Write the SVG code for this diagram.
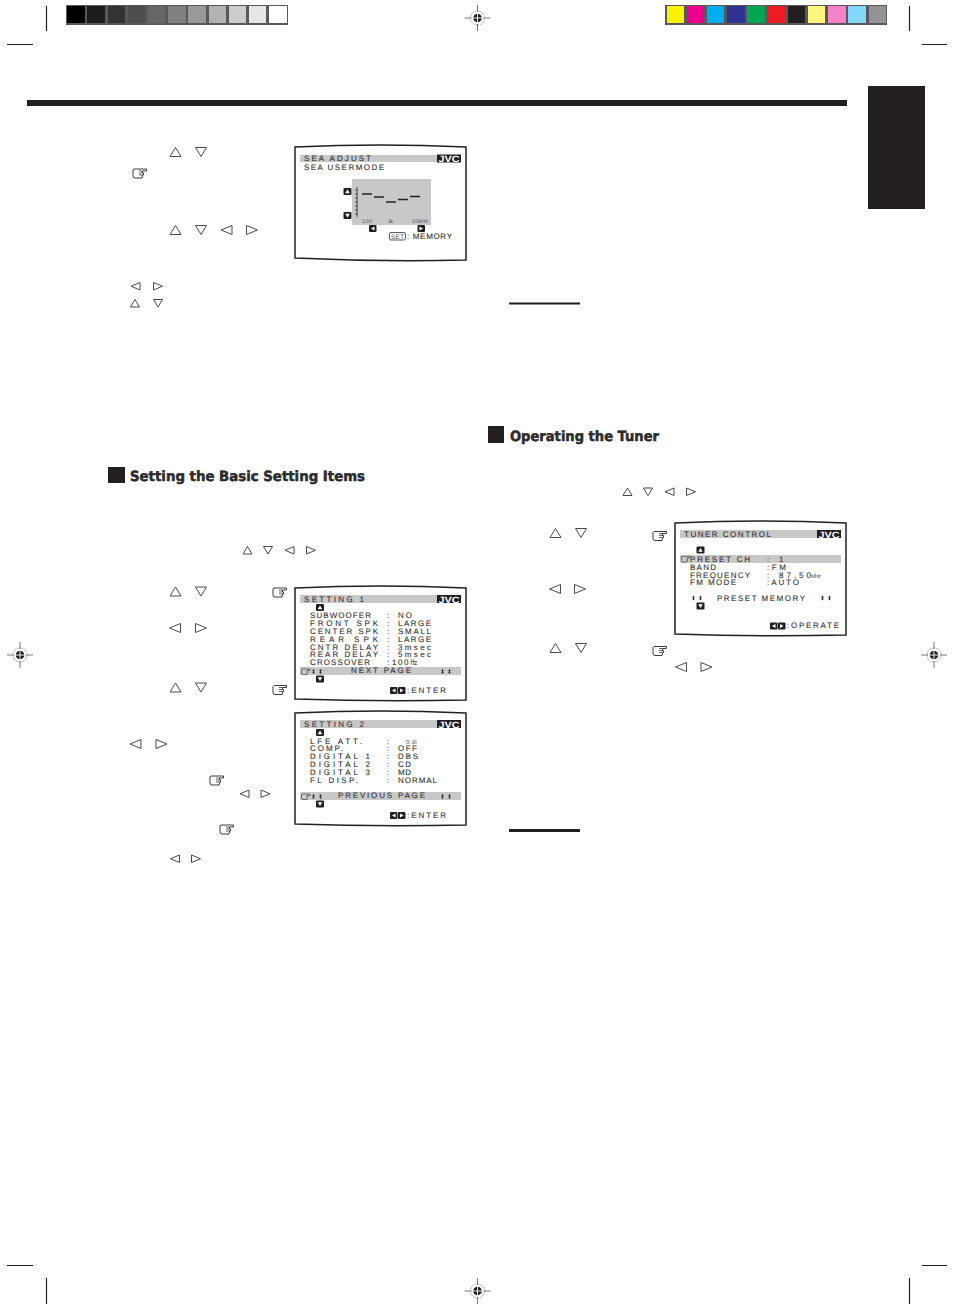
<svg xmlns="http://www.w3.org/2000/svg" width="954" height="1311" viewBox="0 0 954 1311">
<style>
.bg{fill:#fff}
.k{fill:#231f20}
.crop{stroke:#231f20;stroke-width:1.2;fill:none}
.scr{fill:#fff;stroke:#231f20;stroke-width:1.5}
.bar{fill:#c8c8c8}
text{text-rendering:geometricPrecision}
.t{font-family:"Liberation Sans Narrow","Liberation Sans",Arial,sans-serif;font-size:8px;fill:#333132;stroke:#333132;stroke-width:0.1}
.sm{font-family:"Liberation Sans Narrow","Liberation Sans",Arial,sans-serif;font-size:5.500px;fill:#555}
.jvc{font-family:"Liberation Sans",Arial,sans-serif;font-size:9px;font-weight:bold;fill:#fff}
.h{font-family:"DejaVu Sans",Verdana,sans-serif;font-size:14px;font-weight:bold;fill:#2c2a2b;stroke:#2c2a2b;stroke-width:0.5}
.tri{fill:#fff;stroke:#4a4a4a;stroke-width:1}
.hand{fill:#fff;stroke:#3c3c3c;stroke-width:1}
</style>
<defs>
<polygon id="up" class="tri" points="0,9 5.500,0 11,9"/>
<polygon id="dn" class="tri" points="0,0 11,0 5.500,9"/>
<polygon id="lf" class="tri" points="11,0 11,9 0,4.500"/>
<polygon id="rt" class="tri" points="0,0 0,9 11,4.500"/>
<polygon id="sup" class="tri" points="0,7.500 4.500,0 9,7.500"/>
<polygon id="sdn" class="tri" points="0,0 9,0 4.500,7.500"/>
<polygon id="slf" class="tri" points="9,0 9,7.500 0,3.750"/>
<polygon id="srt" class="tri" points="0,0 0,7.500 9,3.750"/>
<g id="hand"><path class="hand" d="M2 1H14.500V3H10.500V5H11.500V7H10.500V8.800H10V10H3Q1 10 1 8V2Z"/><path fill="none" stroke="#3c3c3c" stroke-width="0.8" d="M7 3H10.500M7 5H10.500M7 7H10.500"/></g>
<g id="hs"><path fill="none" stroke="#555" stroke-width="0.8" d="M1 0.500H9V2H6V3.500H6.500V5H6V6H2Q0.500 6 0.500 4.500V1Z"/></g>
<g id="bu"><rect width="8" height="7" rx="1" fill="#231f20"/><polygon points="1.700,5.200 4,1.500 6.300,5.200" fill="#fff"/></g>
<g id="bd"><rect width="8" height="7" rx="1" fill="#231f20"/><polygon points="1.700,1.800 6.300,1.800 4,5.500" fill="#fff"/></g>
<g id="bl"><rect width="7.500" height="7" rx="1" fill="#231f20"/><polygon points="5.500,1.400 5.500,5.600 2,3.500" fill="#fff"/></g>
<g id="br"><rect width="7.500" height="7" rx="1" fill="#231f20"/><polygon points="2,1.400 2,5.600 5.500,3.500" fill="#fff"/></g>
<path id="ud" fill="#333" d="M1.500 0L3 1.800H2.100V3.200H3L1.500 5L0 3.200H0.900V1.800H0Z"/>
<g id="reg">
<circle r="7" fill="#fff" stroke="#777" stroke-width="0.7" stroke-dasharray="1.500 0.800"/>
<circle r="4.300" fill="#231f20"/>
<path d="M-5 0H5M0 -5V5" stroke="#fff" stroke-width="0.9"/>
<path d="M-13 0H-6M6 0H13M0 -13V-6M0 6V13" stroke="#555" stroke-width="0.8"/>
</g>
<g id="jvc"><rect width="24" height="8" fill="#231f20"/><text class="jvc" x="1.500" y="7.500" textLength="21" lengthAdjust="spacingAndGlyphs">JVC</text></g>
</defs>
<rect class="bg" width="954" height="1311"/>

<g id="print-marks">
<path class="crop" d="M46.500 6V31M7 44.500H33M909.500 6V31M922 44.500H947M7 1265.500H33M922 1265.500H947M46.500 1278V1304M909.500 1278V1304"/>
<use href="#reg" x="477.500" y="18"/>
<use href="#reg" x="20" y="655"/>
<use href="#reg" x="934" y="655"/>
<use href="#reg" x="477.500" y="1291"/>
</g>

<g id="gray-scale">
<rect x="66" y="5" width="222" height="20" fill="#58595b"/>
<rect x="67" y="6" width="18" height="17" fill="#000"/>
<rect x="87" y="6" width="18" height="17" fill="#1c1c1c"/>
<rect x="108" y="6" width="17" height="17" fill="#333"/>
<rect x="128" y="6" width="17" height="17" fill="#4d4d4d"/>
<rect x="148" y="6" width="17" height="17" fill="#666"/>
<rect x="168" y="6" width="18" height="17" fill="#808080"/>
<rect x="188" y="6" width="18" height="17" fill="#999"/>
<rect x="209" y="6" width="17" height="17" fill="#b2b2b2"/>
<rect x="229" y="6" width="17" height="17" fill="#ccc"/>
<rect x="249" y="6" width="17" height="17" fill="#e6e6e6"/>
<rect x="269" y="6" width="18" height="17" fill="#fff"/>
</g>
<g id="color-bar">
<rect x="665" y="5" width="222" height="20" fill="#58595b"/>
<rect x="667" y="6" width="17" height="17" fill="#fff200"/>
<rect x="687" y="6" width="17" height="17" fill="#ec008c"/>
<rect x="707" y="6" width="17" height="17" fill="#00aeef"/>
<rect x="727" y="6" width="18" height="17" fill="#2e3192"/>
<rect x="747" y="6" width="18" height="17" fill="#00a651"/>
<rect x="768" y="6" width="17" height="17" fill="#ed1c24"/>
<rect x="788" y="6" width="17" height="17" fill="#231f20"/>
<rect x="808" y="6" width="17" height="17" fill="#fff77d"/>
<rect x="828" y="6" width="18" height="17" fill="#f682c8"/>
<rect x="848" y="6" width="18" height="17" fill="#82d7fa"/>
<rect x="869" y="6" width="17" height="17" fill="#939393"/>
</g>

<rect id="top-rule" class="k" x="27" y="100" width="820" height="6"/>
<rect id="side-tab" class="k" x="868" y="86" width="57" height="123"/>
<rect id="rule-1" class="k" x="509" y="302.500" width="71" height="2"/>
<rect id="rule-2" class="k" x="509" y="829" width="71" height="3"/>

<g id="heading-basic">
<rect class="k" x="108" y="467" width="17" height="16"/>
<text class="h" x="130" y="481" textLength="235" lengthAdjust="spacingAndGlyphs">Setting the Basic Setting Items</text>
</g>
<g id="heading-tuner">
<rect class="k" x="488" y="426" width="16" height="17"/>
<text class="h" x="510" y="441" textLength="149" lengthAdjust="spacingAndGlyphs">Operating the Tuner</text>
</g>

<g id="symbols">
<use href="#up" x="170" y="147.500"/><use href="#dn" x="195.500" y="147.500"/>
<use href="#hand" x="132" y="168"/>
<use href="#up" x="170" y="225.500"/><use href="#dn" x="195.500" y="225.500"/><use href="#lf" x="221" y="225.500"/><use href="#rt" x="246.500" y="225.500"/>
<use href="#slf" x="131" y="282.500"/><use href="#srt" x="153.500" y="282.500"/>
<use href="#sup" x="130.500" y="299.500"/><use href="#sdn" x="153.500" y="299.500"/>

<use href="#sup" x="243" y="546.500"/><use href="#sdn" x="263.500" y="546.500"/><use href="#slf" x="285" y="546.500"/><use href="#srt" x="306.500" y="546.500"/>
<use href="#up" x="170" y="587"/><use href="#dn" x="195.500" y="587"/><use href="#hand" x="272" y="587"/>
<use href="#lf" x="169.500" y="623.500"/><use href="#rt" x="195.500" y="623.500"/>
<use href="#up" x="170" y="683"/><use href="#dn" x="195.500" y="683"/><use href="#hand" x="272" y="684.500"/>
<use href="#lf" x="130" y="739.500"/><use href="#rt" x="156" y="739.500"/>
<use href="#hand" x="209" y="775"/>
<use href="#slf" x="240" y="790"/><use href="#srt" x="261" y="790"/>
<use href="#hand" x="219" y="824"/>
<use href="#slf" x="170.500" y="855"/><use href="#srt" x="191.500" y="855"/>

<use href="#sup" x="623" y="488"/><use href="#sdn" x="643.500" y="488"/><use href="#slf" x="665" y="488"/><use href="#srt" x="686.500" y="488"/>
<use href="#up" x="550" y="528.500"/><use href="#dn" x="575.500" y="528.500"/><use href="#hand" x="652" y="530.500"/>
<use href="#lf" x="549.500" y="584.500"/><use href="#rt" x="574.500" y="584.500"/>
<use href="#up" x="550" y="643.500"/><use href="#dn" x="575.500" y="643.500"/><use href="#hand" x="652" y="645.500"/>
<use href="#lf" x="675.500" y="662.500"/><use href="#rt" x="701" y="662.500"/>
</g>

<g id="screen-sea">
<path class="scr" d="M295 147Q380 143 466 147V260Q380 262 295 258Z"/>
<rect class="bar" x="300" y="155" width="161" height="7"/>
<use href="#jvc" x="437" y="154.500"/>
<text class="t" x="304" y="161" textLength="67">SEA ADJUST</text>
<text class="t" x="304" y="170" textLength="80">SEA USERMODE</text>
<rect class="bar" x="352" y="179" width="79" height="46"/>
<use href="#bu" x="343.500" y="188"/><use href="#bd" x="343.500" y="212"/>
<use href="#bl" x="369" y="225"/><use href="#br" x="417.500" y="225"/>
<path d="M357 187V217M355 190H358M355 194H358M355 198H358M355 202H358M355 206H358M355 210H358M355 214H358" stroke="#333" stroke-width="0.8" fill="none"/>
<path d="M362 194H372M374 197H384M386 202H396M398 199.500H408M410 196.500H420" stroke="#231f20" stroke-width="1.600"/>
<text class="sm" x="362" y="223" textLength="10">100</text>
<text class="sm" x="388" y="223" textLength="5">1k</text>
<text class="sm" x="412" y="223" textLength="16">10kHz</text>
<rect x="389.500" y="232.500" width="16" height="7.500" rx="1.500" fill="none" stroke="#333" stroke-width="0.8"/>
<text class="sm" x="391" y="238.500" textLength="13" style="font-size:6.500px">SET</text>
<text class="t" x="407" y="239" textLength="45">: MEMORY</text>
</g>

<g id="screen-setting-1">
<path class="scr" d="M295 588Q380 584 466 588V700Q380 702 295 699Z"/>
<rect class="bar" x="300" y="595" width="161" height="8"/>
<use href="#jvc" x="437" y="595"/>
<text class="t" x="304" y="602" textLength="60">SETTING 1</text>
<use href="#bu" x="316" y="604"/>
<text class="t" x="310" y="618" textLength="61">SUBWOOFER</text><text class="t" x="387" y="618">:</text><text class="t" x="398" y="618" textLength="14">NO</text>
<text class="t" x="310" y="626" textLength="68">FRONT SPK</text><text class="t" x="387" y="626">:</text><text class="t" x="398" y="626" textLength="33">LARGE</text>
<text class="t" x="310" y="634" textLength="68">CENTER SPK</text><text class="t" x="387" y="634">:</text><text class="t" x="398" y="634" textLength="33">SMALL</text>
<text class="t" x="310" y="642" textLength="68">REAR SPK</text><text class="t" x="387" y="642">:</text><text class="t" x="398" y="642" textLength="33">LARGE</text>
<text class="t" x="310" y="650" textLength="68">CNTR DELAY</text><text class="t" x="387" y="650">:</text><text class="t" x="398" y="650" textLength="33">3msec</text>
<text class="t" x="310" y="657" textLength="68">REAR DELAY</text><text class="t" x="387" y="657">:</text><text class="t" x="398" y="657" textLength="33">5msec</text>
<text class="t" x="310" y="665" textLength="60">CROSSOVER</text><text class="t" x="387" y="665">:</text><text class="t" x="392" y="665" textLength="26">100㎐</text>
<rect class="bar" x="300" y="667" width="161" height="8"/>
<use href="#hs" x="301" y="668.500"/><use href="#ud" x="312" y="669"/><use href="#ud" x="319" y="669"/>
<text class="t" x="351" y="673" textLength="60">NEXT PAGE</text>
<use href="#ud" x="441" y="669"/><use href="#ud" x="448" y="669"/>
<use href="#bd" x="316" y="675.500"/>
<use href="#bl" x="390" y="687"/><use href="#br" x="398" y="687"/>
<text class="t" x="407" y="693" textLength="39">:ENTER</text>
</g>

<g id="screen-setting-2">
<path class="scr" d="M295 713Q380 709 466 713V825Q380 827 295 824Z"/>
<rect class="bar" x="300" y="720" width="161" height="8"/>
<use href="#jvc" x="437" y="720"/>
<text class="t" x="304" y="727" textLength="60">SETTING 2</text>
<use href="#bu" x="316" y="729"/>
<text class="t" x="310" y="744" textLength="52">LFE ATT.</text><text class="t" x="387" y="744">:</text><text class="sm" x="406" y="744" textLength="11" style="font-size:6px">0㏈</text>
<text class="t" x="310" y="751" textLength="33">COMP.</text><text class="t" x="387" y="751">:</text><text class="t" x="398" y="751" textLength="19">OFF</text>
<text class="t" x="310" y="759" textLength="60">DIGITAL 1</text><text class="t" x="387" y="759">:</text><text class="t" x="398" y="759" textLength="20">DBS</text>
<text class="t" x="310" y="767" textLength="60">DIGITAL 2</text><text class="t" x="387" y="767">:</text><text class="t" x="398" y="767" textLength="13">CD</text>
<text class="t" x="310" y="775" textLength="60">DIGITAL 3</text><text class="t" x="387" y="775">:</text><text class="t" x="398" y="775" textLength="13">MD</text>
<text class="t" x="310" y="783" textLength="48">FL DISP.</text><text class="t" x="387" y="783">:</text><text class="t" x="398" y="783" textLength="39">NORMAL</text>
<rect class="bar" x="300" y="792" width="161" height="8"/>
<use href="#hs" x="301" y="793.500"/><use href="#ud" x="312" y="794"/><use href="#ud" x="319" y="794"/>
<text class="t" x="338" y="798" textLength="87">PREVIOUS PAGE</text>
<use href="#ud" x="441" y="794"/><use href="#ud" x="448" y="794"/>
<use href="#bd" x="316" y="800.500"/>
<use href="#bl" x="390" y="812"/><use href="#br" x="398" y="812"/>
<text class="t" x="407" y="818" textLength="39">:ENTER</text>
</g>

<g id="screen-tuner">
<path class="scr" d="M675 523Q760 519 846 523V635Q760 637 675 634Z"/>
<rect class="bar" x="680" y="530" width="161" height="8"/>
<use href="#jvc" x="817" y="530"/>
<text class="t" x="684" y="537" textLength="87">TUNER CONTROL</text>
<use href="#bu" x="696.500" y="546.500"/>
<rect class="bar" x="680" y="555" width="161" height="8"/>
<use href="#hs" x="681" y="556"/>
<text class="t" x="690" y="561.500" textLength="60">PRESET CH</text><text class="t" x="767" y="561.500">:</text><text class="t" x="779" y="561.500">1</text>
<text class="t" x="690" y="569.500" textLength="26">BAND</text><text class="t" x="767" y="569.500" textLength="19">:FM</text>
<text class="t" x="690" y="577.500" textLength="60">FREQUENCY</text><text class="t" x="767" y="577.500">:</text><text class="t" x="779" y="577.500" textLength="32">87.50</text><text class="sm" x="811" y="577.500" textLength="10">MHz</text>
<text class="t" x="690" y="585" textLength="46">FM MODE</text><text class="t" x="767" y="585" textLength="32">:AUTO</text>
<use href="#ud" x="692" y="595.500"/><use href="#ud" x="699" y="595.500"/>
<text class="t" x="717" y="601" textLength="88">PRESET MEMORY</text>
<use href="#ud" x="821" y="595.500"/><use href="#ud" x="828" y="595.500"/>
<use href="#bd" x="696.500" y="602.500"/>
<use href="#bl" x="770" y="622.500"/><use href="#br" x="778" y="622.500"/>
<text class="t" x="787" y="628" textLength="52">:OPERATE</text>
</g>
</svg>
